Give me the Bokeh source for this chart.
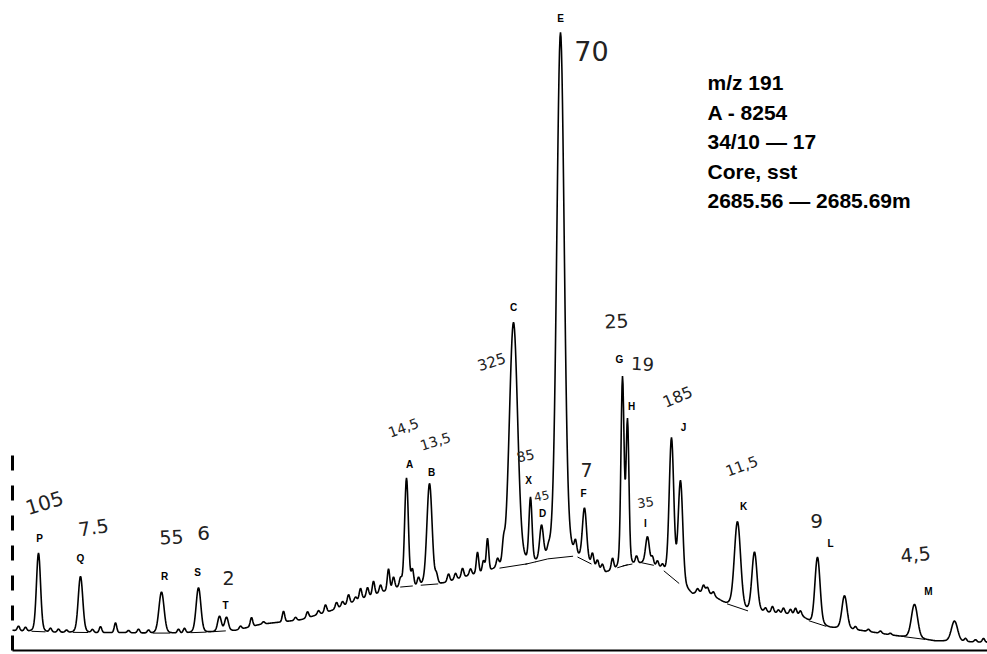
import numpy as np
from bokeh.plotting import figure
from bokeh.models import Range1d, Label, ColumnDataSource
from bokeh.core.properties import value
from bokeh.embed import file_html
from bokeh.resources import INLINE

# ---- m/z 191 fragmentogram: labelled triterpane peaks ----
peak_names = ["P", "Q", "R", "S", "T", "A", "B", "C", "X", "D",
              "E", "F", "G", "H", "I", "J", "K", "L", "M"]
peak_scan = [38, 80, 161, 198, 219, 406, 429, 513, 530, 541,
             560, 584, 622, 627, 647, 671, 737, 817, 914]
# peak heights (mm above the drawn baseline), as written beside each peak
peak_height = [10.5, 7.5, 5.5, 6, 2, 14.5, 13.5, 32.5, 8.5, 4.5,
               70, 7, 25, 19, 3.5, 18.5, 11.5, 9, 4.5]
peak_note = ["105", "7.5", "55", "6", "2", "14,5", "13,5", "325", "85", "45",
             "70", "7", "25", "19", "35", "185", "11,5", "9", "4,5"]
peak_sigma = [2.0, 2.2, 2.5, 2.3, 1.8, 1.8, 2.5, 4.0, 1.5, 1.8,
              3.6, 2.0, 1.5, 1.4, 1.8, 2.2, 3.0, 2.5, 3.0]

# ---- unlabelled companion peaks ----
other_scan = [226, 680, 754, 844, 954]
other_height = [1.8, 13.7, 7.9, 4.4, 2.7]
other_sigma = [1.8, 2.2, 2.5, 2.5, 3.0]

# ---- small noise spikes on the trace ----
noise_scan = [18, 25, 50, 58, 66, 92, 100, 115, 128, 138, 148, 178, 184, 240,
              251, 263, 283, 295, 307, 318, 325, 336, 342, 348, 355, 360, 367,
              373, 380, 388, 393, 400, 412, 418, 436, 448, 455, 462, 470, 477,
              483, 487, 497, 503, 548, 575, 592, 597, 602, 612, 636,
              652, 657, 662, 697, 703, 707, 713, 765, 772, 778, 783, 790, 795,
              800, 855, 868, 880, 890, 965, 975, 983]
noise_height = [0.6, 0.5, 0.5, 0.4, 0.3, 0.4, 0.8, 1.3, 0.3, 0.5, 0.4, 0.5, 0.6, 0.4,
                1.2, 0.3, 1.4, 0.4, 0.8, 0.5, 1.0, 0.8, 0.6, 1.2, 0.5, 1.4, 1.2,
                1.8, 1.0, 2.8, 1.5, 1.0, 2.0, 1.0, 1.0, 1.0, 0.8, 1.2, 0.8, 2.8,
                1.5, 4.3, 1.0, 2.0, 0.6, 1.5, 1.5, 1.0, 0.8, 1.5, 1.0,
                1.0, 0.8, 0.6, 0.5, 0.8, 0.6, 0.5, 0.5, 0.8, 0.4, 0.7, 0.6, 0.8,
                0.5, 0.4, 0.3, 0.3, 0.2, 0.4, 0.3, 0.5]

# ---- unresolved hump (trace floor) ----
bg_scan = [12, 40, 80, 120, 160, 200, 235, 260, 300, 330, 360, 395, 420, 440,
           470, 495, 525, 550, 575, 590, 605, 625, 645, 660, 675, 692, 705,
           725, 745, 770, 800, 812, 830, 860, 900, 935, 987]
bg_level = [2.7, 2.5, 2.4, 2.4, 2.3, 2.4, 2.7, 3.5, 4.1, 5.3, 6.9, 8.4, 8.7, 8.9,
            10.1, 10.9, 11.5, 12.3, 12.6, 11.6, 10.5, 11.4, 11.8, 11.0, 9.3, 7.6,
            8.0, 6.3, 5.3, 5.1, 4.8, 3.6, 3.1, 2.7, 1.9, 1.3, 1.1]


def floor(x):
    return np.interp(x, bg_scan, bg_level)


def peak_shape(x, x0, h, s):
    return h * (0.94 * np.exp(-0.5 * ((x - x0) / s) ** 2)
                + 0.06 * np.exp(-0.5 * ((x - x0) / (2.2 * s)) ** 2))


def spike(x, x0, h):
    return h * np.exp(-0.5 * ((x - x0) / 1.2) ** 2)


def signal(x):
    x = np.asarray(x, dtype=float)
    y = floor(x)
    for x0, h, s in zip(peak_scan, peak_height, peak_sigma):
        y = y + peak_shape(x, x0, h, s)
    for x0, h, s in zip(other_scan, other_height, other_sigma):
        y = y + peak_shape(x, x0, h, s)
    for x0, h in zip(noise_scan, noise_height):
        y = y + spike(x, x0, h)
    return y


scan = np.arange(12, 987.5, 0.5)
trace = signal(scan)

# ---- figure: 1 mm of chart paper = 7.5 px ----
MM = 7.5
p = figure(width=987, height=654, output_backend="svg", toolbar_location=None,
           x_axis_location=None, y_axis_location=None, min_border=0,
           x_range=Range1d(0, 987), y_range=Range1d(-4 / MM, 650 / MM))
p.grid.visible = False
p.outline_line_color = None
p.background_fill_color = "white"
p.border_fill_color = "white"

# chart frame: time axis and dashed intensity marker
p.segment(x0=[12], y0=[0], x1=[987], y1=[0], line_color="black", line_width=2)
p.segment(x0=[12], y0=[0], x1=[12], y1=[195 / MM], line_color="black",
          line_width=3, line_dash="15 15")

# drawn integration baselines under the labelled peaks (on the hump floor)
seg_l = [x0 - 3.5 * s for x0, s in zip(peak_scan, peak_sigma)]
seg_r = [x0 + 3.5 * s for x0, s in zip(peak_scan, peak_sigma)]
p.segment(x0=seg_l, y0=list(floor(seg_l)), x1=seg_r, y1=list(floor(seg_r)),
          line_color="black", line_width=1)

# the trace
p.line(scan, trace, line_color="black", line_width=1.6)

# peak letters and handwritten heights
apex = list(signal(peak_scan))
letter_dx = [1, 0, 3, -1, 6, 3, 2, 0, -2, 1, 0, -1, -3, 4, -2, 12, 6, 13, 14]
letter_dy = [-14, -18, -15, -15, -11, -13, -11, -15, -16, -11, -14, -14, -16, -11, -13, -10, -15, -14, -13]
note_dx = [6, 13, 10, 5, 9, -3, 6, -22, -5, 0, 31, 2, -6, 15, -2, 6, 4, -1, 1]
note_dy = [-50, -49, -55, -55, -38, -50, -42, 39, -41, -29, 19, -38, -55, -54, -34, -41, -56, -36, -50]
note_size = ["20px", "19px", "19px", "20px", "19px", "14px", "14px", "15px", "14px", "12px",
             "27px", "19px", "19px", "18px", "13px", "16px", "15px", "20px", "19px"]
note_angle = [0.3, 0.15, 0.05, 0.0, 0.0, 0.35, 0.3, 0.3, 0.2, 0.2,
              0.0, 0.0, 0.05, -0.05, 0.15, 0.4, 0.35, 0.0, 0.1]

src = ColumnDataSource(dict(x=peak_scan, y=apex, name=peak_names, note=peak_note,
                            ldx=letter_dx, ldy=letter_dy, ndx=note_dx, ndy=note_dy,
                            nsize=note_size, nang=note_angle))
p.text(x="x", y="y", text="name", x_offset="ldx", y_offset="ldy", source=src,
       text_font=value("Liberation Sans"), text_font_style="bold",
       text_font_size="10px", text_align="center", text_baseline="middle",
       text_color="black")
p.text(x="x", y="y", text="note", x_offset="ndx", y_offset="ndy", angle="nang",
       source=src, text_font=value("DejaVu Sans"), text_font_size="nsize",
       text_align="center", text_baseline="middle", text_color="#222222")

# sample description
info = ["m/z 191", "A - 8254", "34/10 \u2014 17", "Core, sst", "2685.56 \u2014 2685.69m"]
for i, line in enumerate(info):
    p.add_layout(Label(x=707, y=654 - (82 + 29.5 * i), x_units="screen", y_units="screen",
                       text=line, text_font="Liberation Sans", text_font_style="bold",
                       text_font_size="21px", text_baseline="middle", text_color="black"))

open("out.html", "w").write(file_html(p, INLINE))
